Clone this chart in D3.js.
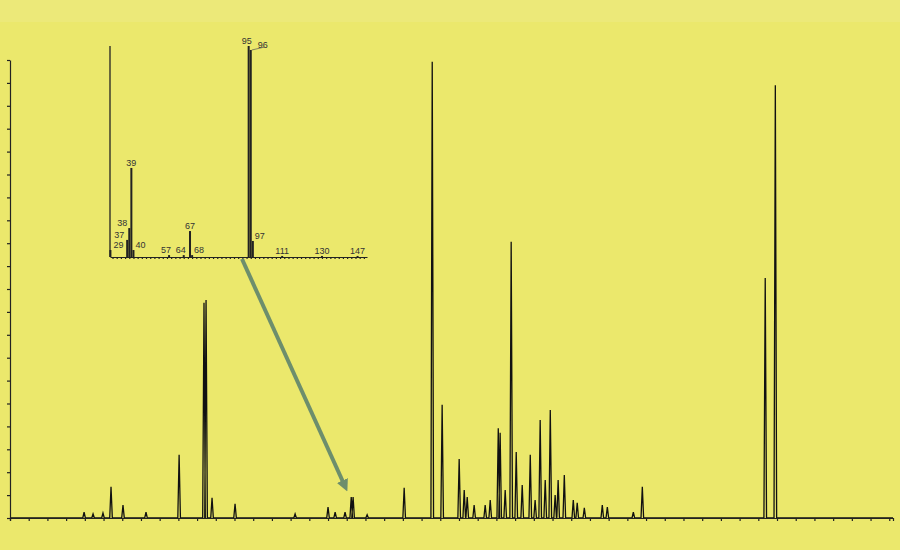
<!DOCTYPE html>
<html lang="en">
<head>
<meta charset="UTF-8">
<title>Chromatogram with mass spectrum</title>
<script src="https://d3js.org/d3.v7.min.js"></script>
<style>
  body { margin: 0; background: #ebe86c; }
  svg { display: block; font-family: Arial, "Liberation Sans", sans-serif; }
</style>
</head>
<body>
<div id="chart"></div>
<script>
// Chromatogram peaks: retention time (min) and relative height (%)
const peakTimes = [3.96, 4.44, 4.97, 5.4, 6.04, 7.27, 9.04, 10.37, 10.48, 10.8, 12.03, 15.24, 17.0, 17.38, 17.91, 18.24, 18.34, 19.09, 21.07, 22.57, 23.1, 24.01, 24.28, 24.44, 24.81, 25.4, 25.67, 26.1, 26.2, 26.47, 26.79, 27.06, 27.38, 27.81, 28.07, 28.34, 28.61, 28.88, 29.14, 29.3, 29.63, 30.11, 30.32, 30.7, 31.66, 31.93, 33.32, 33.8, 40.37, 40.91];
const peakHeights = [1.3, 0.9, 1.1, 6.8, 2.8, 1.3, 13.8, 47, 47.6, 4.4, 3.1, 0.9, 2.4, 1.3, 1.3, 4.6, 4.6, 0.7, 6.6, 99.6, 24.7, 12.9, 6.1, 4.6, 2.8, 2.8, 3.9, 19.6, 18.6, 6.1, 60.3, 14.4, 7.2, 13.8, 3.9, 21.4, 8.3, 23.6, 5.0, 8.3, 9.4, 3.9, 3.3, 2.2, 2.8, 2.4, 1.3, 6.8, 52.4, 94.5];

// Mass spectrum of the marked peak: m/z and relative abundance (%)
const msMz = [29, 37, 38, 39, 40, 57, 64, 67, 68, 95, 96, 97, 111, 130, 147];
const msAbundance = [3.3, 8.1, 13.7, 42.2, 3.3, 0.9, 0.9, 12.3, 0.9, 100, 98.1, 7.6, 0.5, 0.5, 0.5];
const msLabelDx = [8, -8, -7, 0, 7, -3, -3, 0, 7, -2, 12, 7, 0, 0, 0];

const W = 900, H = 550;
const svg = d3.select("#chart").append("svg").attr("width", W).attr("height", H);
svg.append("rect").attr("width", W).attr("height", H).attr("fill", "#ebe86c");
svg.append("rect").attr("width", W).attr("height", 22).attr("fill", "#ece979");

// ----- main chromatogram -----
const x = d3.scaleLinear().domain([0, 47.2]).range([10, 893]);
const y = d3.scaleLinear().domain([0, 100]).range([518, 60]);

const pts = [[0, 0]];
peakTimes.forEach((t, i) => {
  pts.push([t - 0.07, 0], [t, peakHeights[i]], [t + 0.07, 0]);
});
pts.push([47.2, 0]);

svg.append("path")
  .datum(pts)
  .attr("fill", "none")
  .attr("stroke", "#111")
  .attr("stroke-width", 1.3)
  .attr("d", d3.line().x(d => x(d[0])).y(d => y(d[1])));

svg.append("g")
  .attr("transform", "translate(0,518)")
  .call(d3.axisBottom(x).ticks(47).tickSize(3).tickFormat(""))
  .call(g => g.selectAll("path,line").attr("stroke", "#222").attr("stroke-width", 1.2));

svg.append("g")
  .attr("transform", "translate(10,0)")
  .call(d3.axisLeft(y).ticks(20).tickSize(3).tickFormat("").tickSizeOuter(0))
  .call(g => g.selectAll("path,line").attr("stroke", "#222").attr("stroke-width", 1.2));

// ----- inset mass spectrum -----
const mx = d3.scaleLinear().domain([28.8, 151.5]).range([110, 367]);
const my = d3.scaleLinear().domain([0, 100]).range([257, 46]);
const inset = svg.append("g");

inset.append("line")
  .attr("x1", 110).attr("x2", 110).attr("y1", my(100)).attr("y2", 257)
  .attr("stroke", "#222").attr("stroke-width", 1.3);

inset.append("g")
  .attr("transform", "translate(0,257)")
  .call(d3.axisBottom(mx).ticks(40).tickSize(2).tickFormat("").tickSizeOuter(0))
  .call(g => g.selectAll("path,line").attr("stroke", "#222").attr("stroke-width", 1.2));

inset.selectAll("rect.bar")
  .data(msMz)
  .enter().append("rect")
  .attr("class", "bar")
  .attr("x", d => mx(d) - 1)
  .attr("width", 2)
  .attr("y", (d, i) => my(msAbundance[i]))
  .attr("height", (d, i) => 257 - my(msAbundance[i]))
  .attr("fill", "#222");

inset.selectAll("text.lab")
  .data(msMz)
  .enter().append("text")
  .attr("class", "lab")
  .attr("x", (d, i) => mx(d) + msLabelDx[i])
  .attr("y", (d, i) => Math.min(my(msAbundance[i]) - 2, 254))
  .attr("text-anchor", "middle")
  .attr("font-size", 9)
  .attr("fill", "#333")
  .text(d => d);

// leader line for 96
inset.append("line")
  .attr("x1", mx(96) + 1).attr("y1", my(98.1))
  .attr("x2", mx(96) + 14).attr("y2", my(98.1) - 3)
  .attr("stroke", "#555").attr("stroke-width", 0.7);

// ----- arrow pointing to source peak -----
svg.append("defs").append("marker")
  .attr("id", "head").attr("viewBox", "0 0 10 10")
  .attr("refX", 5).attr("refY", 5)
  .attr("markerWidth", 3).attr("markerHeight", 3)
  .attr("orient", "auto")
  .append("path").attr("d", "M0,0 L10,5 L0,10 Z").attr("fill", "#6d8e6c");

svg.append("line")
  .attr("x1", 242).attr("y1", 259)
  .attr("x2", x(17.9)).attr("y2", 486)
  .attr("stroke", "#6d8e6c").attr("stroke-width", 4)
  .attr("marker-end", "url(#head)");
</script>
</body>
</html>
